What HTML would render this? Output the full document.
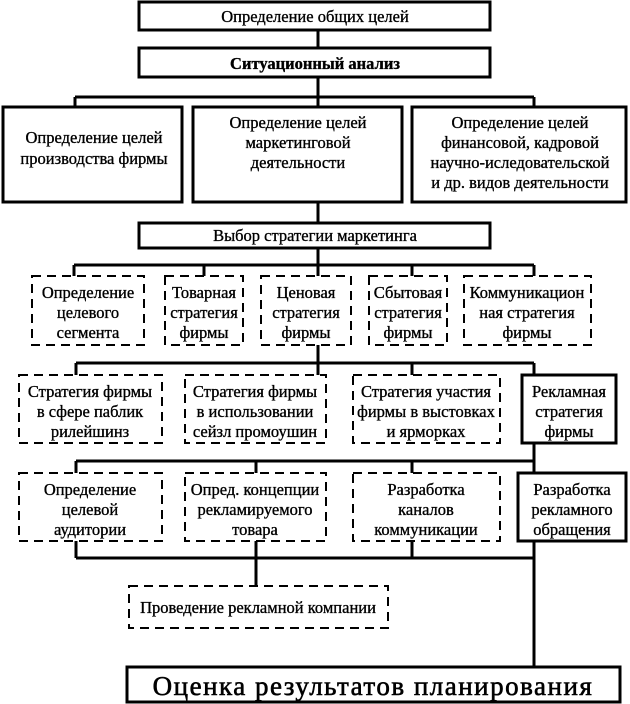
<!DOCTYPE html>
<html><head><meta charset="utf-8"><style>
html,body{margin:0;padding:0;background:#fff}
svg{display:block}
text{font-family:"Liberation Serif",serif;font-size:16.5px;fill:#000;stroke:#000;stroke-width:0.35;text-anchor:middle}
</style></head><body>
<svg width="630" height="704" viewBox="0 0 630 704" xmlns="http://www.w3.org/2000/svg">
<g fill="none" stroke="#000" stroke-width="3">
<path d="M318 30V48M318 77V97M75 97H534M75 97V107M318 97V107M534 97V107"/>
<path d="M318 202V223M318 248V265M74 265H534M74 265V276M204 265V276M318 265V276M412 265V276M534 265V276"/>
<path d="M318 345V363M76 363H534M76 363V375M318 363V375M412 363V375M534 363V375"/>
<path d="M534 443V473M76 461H534M76 461V473M256 461V473M412 461V473"/>
<path d="M76 541V558M256 541V586M412 541V558M76 558H534M534 541V667"/>
<rect x="139" y="2" width="351" height="28"/>
<rect x="139" y="48" width="351" height="29"/>
<rect x="3" y="107" width="179" height="95"/>
<rect x="193" y="107" width="209" height="95"/>
<rect x="412" y="107" width="214" height="95"/>
<rect x="139" y="223" width="351" height="25"/>
<rect x="522" y="375" width="94" height="68"/>
<rect x="518" y="473" width="108" height="68"/>
<rect x="127" y="667" width="493" height="35"/>
</g>
<g fill="none" stroke="#000" stroke-width="2" stroke-dasharray="9,6">
<rect x="32" y="276" width="112" height="69"/>
<rect x="165" y="276" width="78" height="69"/>
<rect x="261" y="276" width="90" height="69"/>
<rect x="369" y="276" width="78" height="69"/>
<rect x="464" y="276" width="127" height="69"/>
<rect x="19" y="375" width="143" height="68"/>
<rect x="185" y="375" width="141" height="68"/>
<rect x="353" y="375" width="147" height="68"/>
<rect x="19" y="473" width="143" height="68"/>
<rect x="185" y="473" width="141" height="68"/>
<rect x="353" y="473" width="147" height="68"/>
<rect x="129" y="586" width="259" height="42"/>
</g>
<text x="315" y="22">Определение общих целей</text>
<text x="315" y="69" font-weight="bold">Ситуационный анализ</text>
<text x="94" y="143">Определение целей</text>
<text x="94" y="164">производства фирмы</text>
<text x="298" y="128">Определение целей</text>
<text x="298" y="148">маркетинговой</text>
<text x="298" y="168">деятельности</text>
<text x="520" y="128">Определение целей</text>
<text x="520" y="148">финансовой, кадровой</text>
<text x="520" y="168">научно-иследовательской</text>
<text x="520" y="188">и др. видов деятельности</text>
<text x="315" y="241">Выбор стратегии маркетинга</text>
<text x="88" y="298">Определение</text><text x="88" y="318">целевого</text><text x="88" y="338">сегмента</text>
<text x="204" y="298">Товарная</text><text x="204" y="318">стратегия</text><text x="204" y="338">фирмы</text>
<text x="306" y="298">Ценовая</text><text x="306" y="318">стратегия</text><text x="306" y="338">фирмы</text>
<text x="408" y="298">Сбытовая</text><text x="408" y="318">стратегия</text><text x="408" y="338">фирмы</text>
<text x="527" y="298">Коммуникацион</text><text x="527" y="318">ная стратегия</text><text x="527" y="338">фирмы</text>
<text x="90" y="397">Стратегия фирмы</text><text x="90" y="417">в сфере паблик</text><text x="90" y="437">рилейшинз</text>
<text x="255" y="397">Стратегия фирмы</text><text x="255" y="417">в использовании</text><text x="255" y="437">сейзл промоушин</text>
<text x="426" y="397">Стратегия участия</text><text x="426" y="417">фирмы в выстовках</text><text x="426" y="437">и ярморках</text>
<text x="569" y="397">Рекламная</text><text x="569" y="417">стратегия</text><text x="569" y="437">фирмы</text>
<text x="90" y="495">Определение</text><text x="90" y="515">целевой</text><text x="90" y="535">аудитории</text>
<text x="255" y="495">Опред. концепции</text><text x="255" y="515">рекламируемого</text><text x="255" y="535">товара</text>
<text x="426" y="495">Разработка</text><text x="426" y="515">каналов</text><text x="426" y="535">коммуникации</text>
<text x="572" y="495">Разработка</text><text x="572" y="515">рекламного</text><text x="572" y="535">обращения</text>
<text x="258" y="613">Проведение рекламной компании</text>
<text x="373" y="695" style="font-size:27px;letter-spacing:1.5px;stroke-width:0.6">Оценка результатов планирования</text>
</svg>
</body></html>
